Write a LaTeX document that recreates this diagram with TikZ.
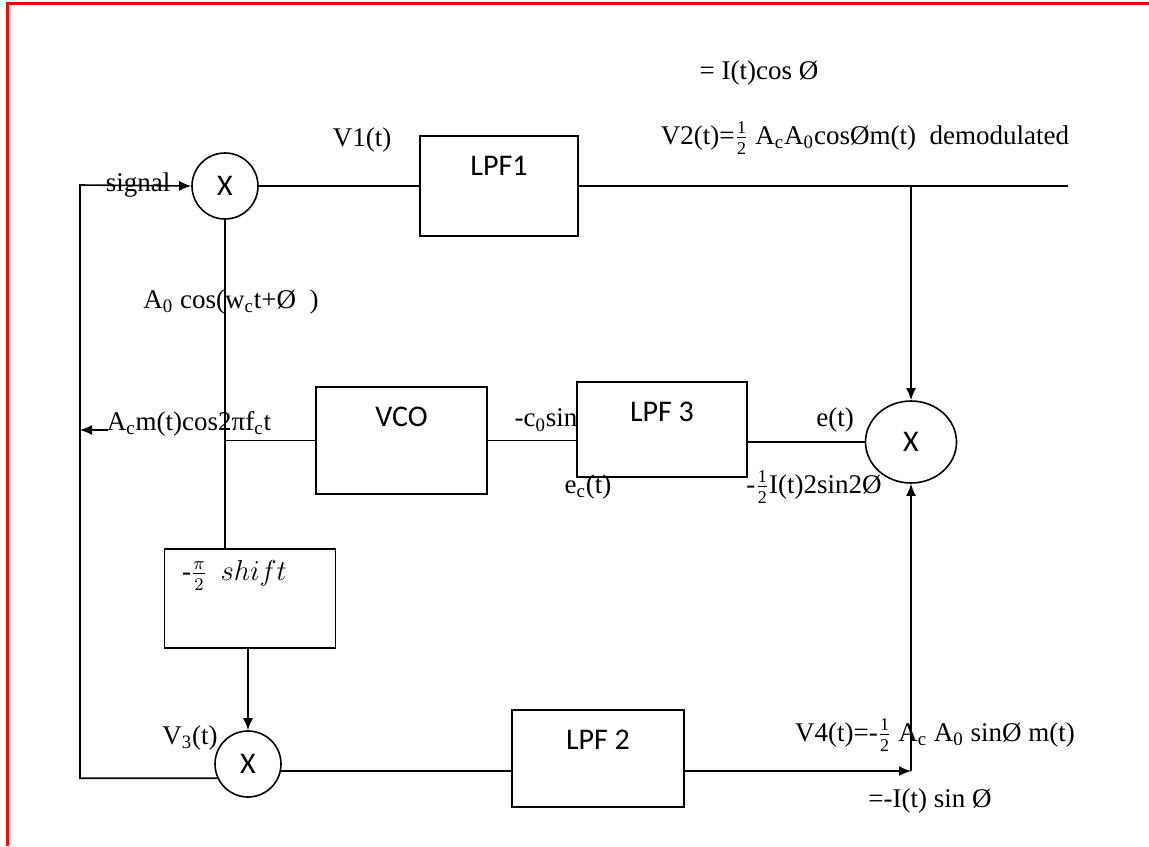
\documentclass[tikz,border=0pt]{standalone}
\usepackage{fontspec}
\setmainfont{Liberation Serif}
\newfontfamily\calib{Carlito}
\usetikzlibrary{shapes.geometric, arrows.meta, positioning}
\newcommand{\halfpart}{$\frac{\mbox{\fontsize{9}{9}\selectfont 1}}{\mbox{\fontsize{9}{9}\selectfont 2}}$}

\begin{document}
\begin{tikzpicture}[
    x=0.5pt, y=-0.5pt,
    wire/.style={line width=0.8pt},
    mixer/.style={circle, draw, wire, minimum size=33pt, inner sep=0pt, font=\calib\fontsize{15}{15}\selectfont},
    mixerwide/.style={ellipse, draw, wire, minimum width=45.5pt, minimum height=41pt, inner sep=0pt, font=\calib\fontsize{15}{15}\selectfont},
    block/.style={rectangle, draw, wire, label={[font=\calib\fontsize{15}{18}\selectfont, anchor=north, yshift=-7pt]north:#1}},
    sig/.style={font=\fontsize{13.5}{16}\selectfont, inner sep=1pt},
    shiftbox/.style={rectangle, draw, wire, minimum width=85.5pt, minimum height=49.5pt, label={[sig, anchor=north west, xshift=8pt, yshift=-5pt]north west:{-$\frac{\pi}{2}$~~$shift$}}},
    arrow/.style={-{Latex[length=6pt,width=5pt]}, wire}
]
    \useasboundingbox (0,0) rectangle (1149,846);
    \draw[red, line width=1.5pt] (7.5,846) -- (7.5,3) -- (1149,3);

    \node[mixer] (mixA) at (225,186) {X};
    \node[block=LPF1, minimum width=79pt, minimum height=50pt] (lpf1) at (499,186) {};
    \node[block=VCO, minimum width=85.5pt, minimum height=53.5pt] (vco) at (401.5,440.5) {};
    \node[block=LPF 3, minimum width=85pt, minimum height=47.5pt] (lpf3) at (662,429.5) {};
    \node[mixerwide] (mixC) at (911,442) {X};
    \node[shiftbox] (shift) at (250,598.5) {};
    \node[mixer] (mixB) at (248,764) {X};
    \node[block=LPF 2, minimum width=86pt, minimum height=48.5pt] (lpf2) at (598,758.5) {};

    \coordinate (sigin) at (80,185);
    \coordinate (out) at (1068,186);
    \coordinate (tap) at (911,186);
    \coordinate (join) at (911,771);
    \coordinate (fb) at (108,430);

    \draw[arrow] (mixB.205) -| (sigin) -- (mixA.west);
    \draw[wire] (mixA.east) -- (lpf1.west);
    \draw[wire] (lpf1.east) -- (out);
    \draw[arrow] (tap) -- (mixC.north);
    \draw[wire] (mixA.south) -- (mixA.south |- shift.north);
    \draw[wire] (mixA.south |- vco.west) -- (vco.west);
    \draw[arrow] (fb) -- (fb -| sigin);
    \draw[wire] (vco.east) -- (vco.east -| lpf3.west);
    \draw[wire] (mixC.west -| lpf3.east) -- (mixC.west);
    \draw[arrow] (shift.south -| mixB.north) -- (mixB.north);
    \draw[wire] (mixB.-12) -- (mixB.-12 -| lpf2.west);
    \draw[arrow] (join -| lpf2.east) -- (join);
    \draw[arrow] (join) -- (mixC.south);

    \node[sig] (lsignal) at (138,185) {signal};
    \node[sig] (lv1) at (362,140) {V1(t)};
    \node[sig] (liq) at (759,73) {= I(t)cos Ø};
    \node[sig] (lv2) at (865,138) {V2(t)=\halfpart{} A\textsubscript{c}A\textsubscript{0}cosØm(t)~~demodulated};
    \node[sig] (losc) at (231,302) {A\textsubscript{0} cos(w\textsubscript{c}t+Ø~~)};
    \node[sig] (lfb) at (189,424) {A\textsubscript{c}m(t)cos2πf\textsubscript{c}t};
    \node[sig] (lc0) at (546,420) {-c\textsubscript{0}sin};
    \node[sig] (lec) at (588,487) {e\textsubscript{c}(t)};
    \node[sig] (let) at (835,420) {e(t)};
    \node[sig] (lerr) at (814,487) {-\halfpart I(t)2sin2Ø};
    \node[sig] (lv3) at (190,738) {V\textsubscript{3}(t)};
    \node[sig] (lv4) at (935,735) {V4(t)=-\halfpart{} A\textsubscript{c} A\textsubscript{0} sinØ m(t)};
    \node[sig] (liq2) at (930,801) {=-I(t) sin~Ø};
\end{tikzpicture}
\end{document}
